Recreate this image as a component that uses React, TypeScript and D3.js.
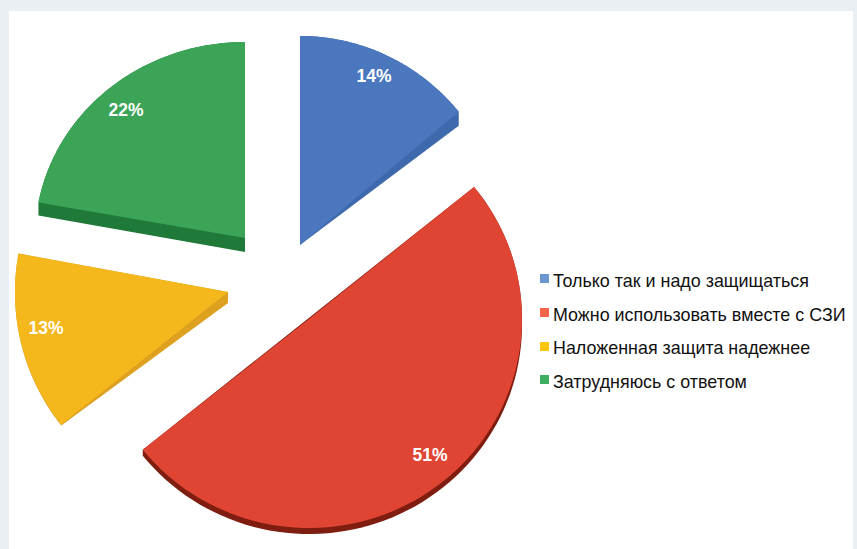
import React from "react";
import * as d3 from "d3";

// Survey shares, clockwise from twelve o'clock
const categories = [
  "Только так и надо защищаться",
  "Можно использовать вместе с СЗИ",
  "Наложенная защита надежнее",
  "Затрудняюсь с ответом",
];
const shares = [14, 51, 13, 22];
const faceColors = ["#4a77bd", "#e04533", "#f4b71c", "#3ba457"];
const wallColors = ["#3f69ad", "#7f1d10", "#dda11f", "#1f7a3a"];
const legendColors = ["#6a97d2", "#f5634a", "#fdc60f", "#3eae63"];

// Exploded wedge placement: apex and radii of every wedge
const apexX = [300, 309, 228, 245];
const apexY = [245, 319, 292, 238];
const radiusX = [206, 213, 213, 210];
const radiusY = [209, 209, 213, 196];
// Extrusion height under the rim and under the apex of every wedge
const rimDepth = [14, 6, 1, 13];
const apexDepth = [0, 0, 11, 14];
// Perspective correction of the wedge edges, in degrees
const startWarp = [0, 0.4, -2.5, -0.4];
const endWarp = [0, -2.7, -0.4, 0];

const labelX = [374, 430, 46, 126];
const labelY = [82, 461, 334, 116];

const legendSwatchX = 540;
const legendTextX = 553;
const legendSwatchY = [274, 308, 342, 375];
const legendBaseline = [287, 321, 354, 388];

const pie = d3.pie<number>().sort(null).value((d) => d);
const closedLine = d3.line().curve(d3.curveLinearClosed);
const deg = Math.PI / 180;

function rimPoints(i: number, start: number, end: number): [number, number][] {
  const a0 = start + startWarp[i] * deg;
  const a1 = end + endWarp[i] * deg;
  return d3.range(0, 81).map((k) => {
    const a = a0 + ((a1 - a0) * k) / 80;
    return [apexX[i] + radiusX[i] * Math.sin(a), apexY[i] - radiusY[i] * Math.cos(a)] as [number, number];
  });
}

export default function App() {
  const arcs = pie(shares);
  return (
    <svg
      width={857}
      height={549}
      style={{ position: "absolute", left: 0, top: 0, display: "block" }}
      fontFamily="'Liberation Sans', Arial, sans-serif"
    >
      <rect width={857} height={549} fill="#e9eff3" />
      <rect x={9} y={11} width={844} height={538} fill="#ffffff" />
      {arcs.map((a, i) => {
        const rim = rimPoints(i, a.startAngle, a.endAngle);
        const apex: [number, number] = [apexX[i], apexY[i]];
        const face = [apex, ...rim];
        const hull = d3.polygonHull([
          ...face,
          [apex[0], apex[1] + apexDepth[i]],
          ...rim.map(([x, y]) => [x, y + rimDepth[i]] as [number, number]),
        ])!;
        return (
          <g key={categories[i]}>
            <path d={closedLine(hull)!} fill={wallColors[i]} />
            <path d={closedLine(face)!} fill={faceColors[i]} />
          </g>
        );
      })}
      {arcs.map((a, i) => (
        <text
          key={i}
          x={labelX[i]}
          y={labelY[i]}
          fill="#fff"
          fontSize={17.5}
          fontWeight="bold"
          textAnchor="middle"
        >
          {a.data}%
        </text>
      ))}
      {categories.map((c, i) => (
        <g key={c}>
          <rect x={legendSwatchX} y={legendSwatchY[i]} width={9} height={9} fill={legendColors[i]} />
          <text x={legendTextX} y={legendBaseline[i]} fontSize={17.9} fill="#111111">
            {c}
          </text>
        </g>
      ))}
    </svg>
  );
}
